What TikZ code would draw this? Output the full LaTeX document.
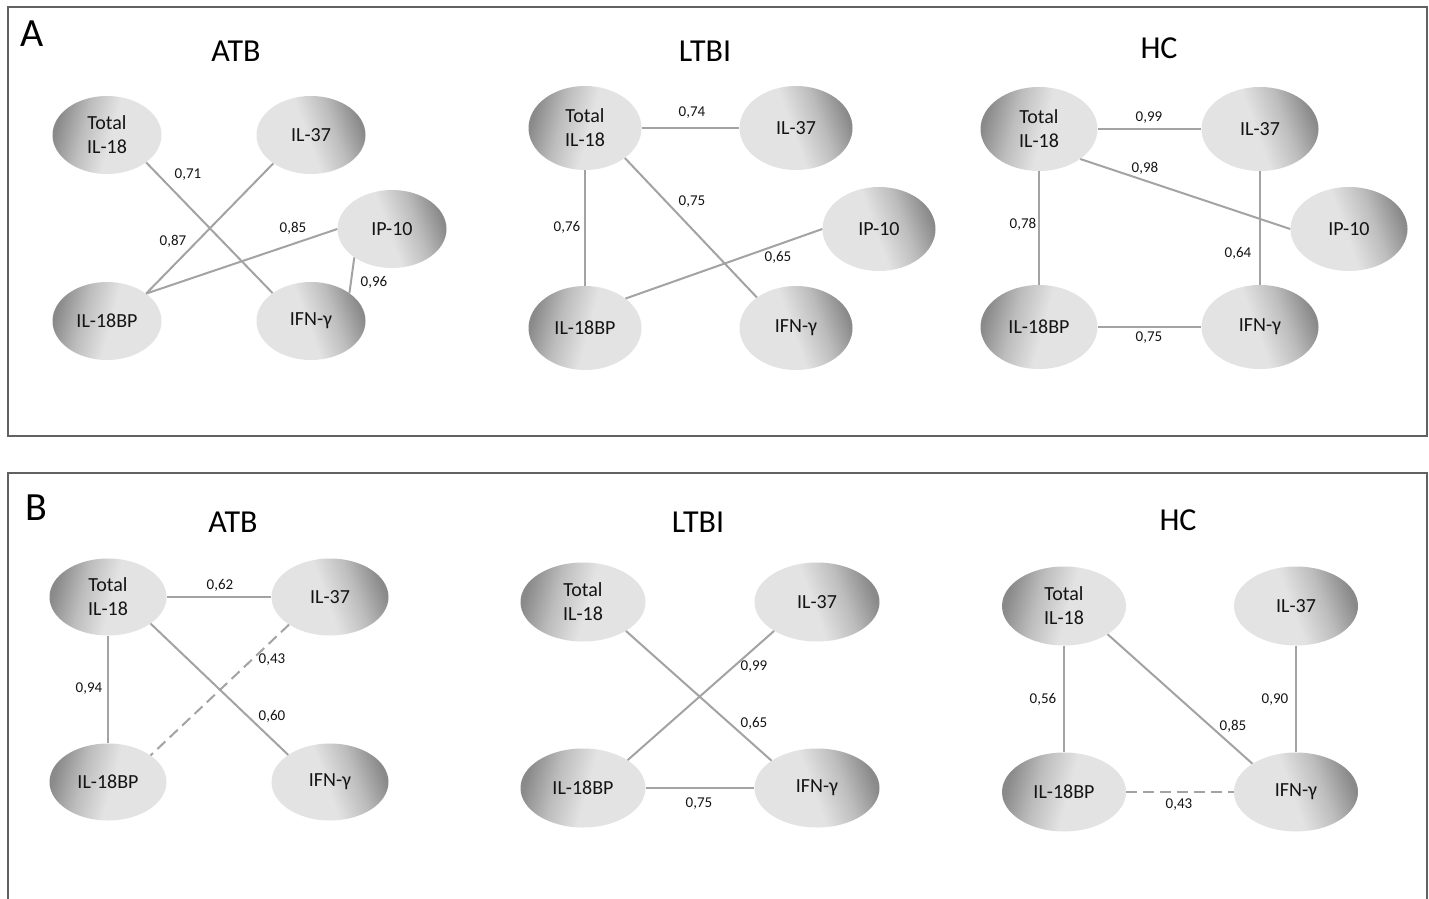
\documentclass[tikz,border=0pt]{standalone}
\usepackage{fontspec}
\setmainfont{Carlito}
\usetikzlibrary{shapes.geometric}
\definecolor{dk}{gray}{0.54}
\definecolor{md}{gray}{0.74}
\definecolor{lt}{gray}{0.89}
\definecolor{edgegray}{gray}{0.64}
\definecolor{txt}{gray}{0.08}
\definecolor{framegray}{gray}{0.38}
\pgfdeclarehorizontalshading{metalL}{100bp}{color(0bp)=(dk); color(25bp)=(dk); color(38bp)=(md); color(52bp)=(lt); color(100bp)=(lt)}
\pgfdeclarehorizontalshading{metalR}{100bp}{color(0bp)=(lt); color(48bp)=(lt); color(62bp)=(md); color(75bp)=(dk); color(100bp)=(dk)}
\tikzset{
  cyto/.style={ellipse, inner sep=0pt, text=txt, align=center,
    font=\fontsize{20}{24}\selectfont},
  lnode/.style={cyto, shading=metalL, shading angle=-15},
  rnode/.style={cyto, shading=metalR, shading angle=20},
  conn/.style={draw=edgegray, line width=2pt},
  dconn/.style={conn, dash pattern=on 11pt off 6pt},
  lbl/.style={font=\fontsize{15}{17}\selectfont, text=txt, inner sep=0pt},
  ttl/.style={font=\fontsize{32}{34}\selectfont, text=black, inner sep=0pt},
  letter/.style={font=\fontsize{40}{42}\selectfont, text=black, inner sep=0pt},
  panel/.style={draw=framegray, line width=1.5pt},
  szA1/.style={minimum width=109pt, minimum height=78pt},
  szA2/.style={minimum width=113pt, minimum height=84pt},
  szA3/.style={minimum width=117pt, minimum height=84pt},
  szB1/.style={minimum width=117pt, minimum height=77pt},
  szB2/.style={minimum width=125pt, minimum height=79pt},
  szB3/.style={minimum width=124pt, minimum height=79pt},
}
\begin{document}
\begin{tikzpicture}[x=1pt, y=-1pt]
\useasboundingbox[fill=white] (0,0) rectangle (1429,899);
% panel frames
\draw[panel] (8,7) rectangle (1427,436);
\draw[panel] (8,899) -- (8,473) -- (1427,473) -- (1427,899);
\node[letter] (letA) at (32,34) {A};
\node[letter] (letB) at (36,508) {B};

% ---------- Panel A, ATB ----------
\node[ttl] (tA1) at (236,51) {ATB};
\node[lnode, szA1] (a1t) at (107,135) {Total\\IL-18};
\node[rnode, szA1] (a1i) at (311,135) {IL-37};
\node[rnode, szA1] (a1p) at (392,229) {IP-10};
\node[lnode, szA1] (a1b) at (107,321) {IL-18BP};
\node[rnode, szA1] (a1f) at (311,321) {IFN-γ};
\draw[conn] (a1t.-35) -- (a1f.144);
\draw[conn] (a1i.-143) -- (a1b.35);
\draw[conn] (a1p.180) -- (a1b.35);
\draw[conn] (a1p.-143) -- (a1f.36);
\node[lbl] (la1a) at (188,175) {0,71};
\node[lbl] (la1b) at (173,241) {0,87};
\node[lbl] (la1c) at (293,228) {0,85};
\node[lbl] (la1d) at (374,282) {0,96};

% ---------- Panel A, LTBI ----------
\node[ttl] (tA2) at (705,51) {LTBI};
\node[lnode, szA2] (a2t) at (585,128) {Total\\IL-18};
\node[rnode, szA2] (a2i) at (796,128) {IL-37};
\node[rnode, szA2] (a2p) at (879,229) {IP-10};
\node[lnode, szA2] (a2b) at (585,328) {IL-18BP};
\node[rnode, szA2] (a2f) at (796,328) {IFN-γ};
\draw[conn] (a2t) -- (a2i);
\draw[conn] (a2t) -- (a2b);
\draw[conn] (a2t.-37) -- (a2f.142);
\draw[conn] (a2p.180) -- (a2b.36);
\node[lbl] (la2a) at (692,113) {0,74};
\node[lbl] (la2b) at (567,227) {0,76};
\node[lbl] (la2c) at (692,202) {0,75};
\node[lbl] (la2d) at (778,257) {0,65};

% ---------- Panel A, HC ----------
\node[ttl] (tA3) at (1159,48) {HC};
\node[lnode, szA3] (a3t) at (1039,129) {Total\\IL-18};
\node[rnode, szA3] (a3i) at (1260,129) {IL-37};
\node[rnode, szA3] (a3p) at (1349,229) {IP-10};
\node[lnode, szA3] (a3b) at (1039,327) {IL-18BP};
\node[rnode, szA3] (a3f) at (1260,327) {IFN-γ};
\draw[conn] (a3t) -- (a3i);
\draw[conn] (a3t.-36) -- (a3p.180);
\draw[conn] (a3t) -- (a3b);
\draw[conn] (a3i) -- (a3f);
\draw[conn] (a3b) -- (a3f);
\node[lbl] (la3a) at (1149,118) {0,99};
\node[lbl] (la3b) at (1145,168) {0,98};
\node[lbl] (la3c) at (1023,224) {0,78};
\node[lbl] (la3d) at (1238,253) {0,64};
\node[lbl] (la3e) at (1149,338) {0,75};

% ---------- Panel B, ATB ----------
\node[ttl] (tB1) at (233,522) {ATB};
\node[lnode, szB1] (b1t) at (108,597) {Total\\IL-18};
\node[rnode, szB1] (b1i) at (330,597) {IL-37};
\node[lnode, szB1] (b1b) at (108,782) {IL-18BP};
\node[rnode, szB1] (b1f) at (330,782) {IFN-γ};
\draw[conn] (b1t) -- (b1i);
\draw[conn] (b1t) -- (b1b);
\draw[conn] (b1t.-32) -- (b1f.147);
\draw[dconn] (b1i.-146) -- (b1b.32);
\node[lbl] (lb1a) at (220,585) {0,62};
\node[lbl] (lb1b) at (89,689) {0,94};
\node[lbl] (lb1c) at (272,716) {0,60};
\node[lbl] (lb1d) at (272,660) {0,43};

% ---------- Panel B, LTBI ----------
\node[ttl] (tB2) at (698,522) {LTBI};
\node[lnode, szB2] (b2t) at (583,602) {Total\\IL-18};
\node[rnode, szB2] (b2i) at (817,602) {IL-37};
\node[lnode, szB2] (b2b) at (583,788) {IL-18BP};
\node[rnode, szB2] (b2f) at (817,788) {IFN-γ};
\draw[conn] (b2t.-34) -- (b2f.149);
\draw[conn] (b2i.-146) -- (b2b.32);
\draw[conn] (b2b) -- (b2f);
\node[lbl] (lb2a) at (754,723) {0,65};
\node[lbl] (lb2b) at (754,667) {0,99};
\node[lbl] (lb2c) at (699,804) {0,75};

% ---------- Panel B, HC ----------
\node[ttl] (tB3) at (1178,520) {HC};
\node[lnode, szB3] (b3t) at (1064,606) {Total\\IL-18};
\node[rnode, szB3] (b3i) at (1296,606) {IL-37};
\node[lnode, szB3] (b3b) at (1064,792) {IL-18BP};
\node[rnode, szB3] (b3f) at (1296,792) {IFN-γ};
\draw[conn] (b3t) -- (b3b);
\draw[conn] (b3t.-33) -- (b3f.147);
\draw[conn] (b3i) -- (b3f);
\draw[dconn] (b3b) -- (b3f);
\node[lbl] (lb3a) at (1043,699) {0,56};
\node[lbl] (lb3b) at (1233,726) {0,85};
\node[lbl] (lb3c) at (1275,700) {0,90};
\node[lbl] (lb3d) at (1179,805) {0,43};
\end{tikzpicture}
\end{document}
